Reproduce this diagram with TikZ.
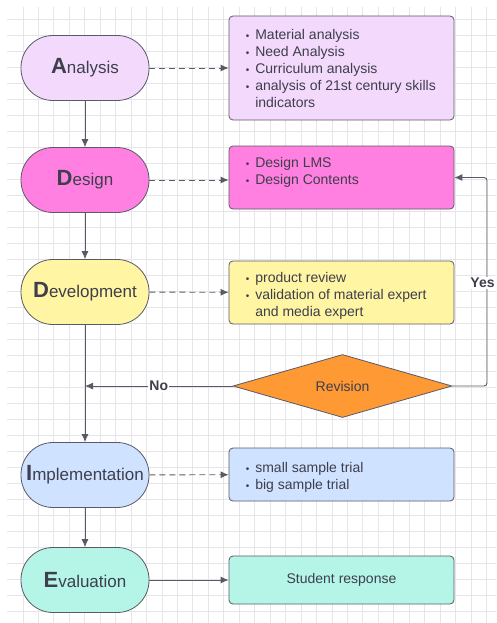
\documentclass[tikz,border=0pt]{standalone}
\usepackage{fontspec}
\setmainfont{Liberation Sans}
\usepackage{tikz}
\usetikzlibrary{arrows.meta,shapes.geometric}

\definecolor{txtgray}{HTML}{3E3E4C}
\definecolor{edgegray}{HTML}{5A5A66}
\definecolor{gridgray}{HTML}{E6E6EA}
\definecolor{anafill}{HTML}{F3D9FC}
\definecolor{desfill}{HTML}{FF80E0}
\definecolor{devfill}{HTML}{FFF5A3}
\definecolor{revfill}{HTML}{FF9933}
\definecolor{impfill}{HTML}{CFE2FF}
\definecolor{evafill}{HTML}{B4F5E8}

\newcommand\bigini[1]{{\fontsize{22}{22}\selectfont\bfseries #1}}
\newcommand\smbul{{\fontsize{10}{10}\selectfont\textbullet}}
\newcommand\itemlist[1]{\fontsize{14}{17}\selectfont
   \begin{tabular}{@{}l@{\hspace{6pt}}l@{}}#1\end{tabular}}

\begin{document}
\begin{tikzpicture}
   [x=1pt,y=-1pt,
    stadium/.style={draw=edgegray,line width=0.8pt,rounded corners=32pt,
       minimum width=128pt,minimum height=65pt,inner sep=0pt,
       text=txtgray,font=\fontsize{17}{20}\selectfont},
    infobox/.style={draw=edgegray,line width=0.8pt,rounded corners=4pt,
       minimum width=225pt,inner sep=0pt},
    infotext/.style={anchor=north west,inner sep=0pt,text=txtgray},
    arr/.style={-{Latex[length=8pt,width=7pt]},draw=edgegray,line width=0.9pt},
    dasharr/.style={arr,dash pattern=on 6pt off 4pt}]

   \useasboundingbox (0,0) rectangle (496,623);

   % grid
   \begin{scope}[draw=gridgray,line width=0.6pt]
      \foreach \k in {0,...,30}
         \draw (22.8+15.45*\k,7) -- (22.8+15.45*\k,623);
      \foreach \k in {0,...,37}
         \draw (7,19+16*\k) -- (496,19+16*\k);
   \end{scope}

   \node[stadium,fill=anafill] (ana) at (85,68) {\bigini{A}nalysis};
   \node[stadium,fill=desfill] (des) at (85,180) {\bigini{D}esign};
   \node[stadium,fill=devfill] (dev) at (85,292) {\bigini{D}evelopment};
   \node[stadium,fill=impfill] (imp) at (85,475) {\bigini{I}mplementation};
   \node[stadium,fill=evafill] (eva) at (85,580) {\bigini{E}valuation};

   \node[infobox,fill=anafill,minimum height=104pt] (abox) at (341.5,68) {};
   \node[infobox,fill=desfill,minimum height=63pt] (dbox) at (341.5,177.5) {};
   \node[infobox,fill=devfill,minimum height=63pt] (vbox) at (341.5,292.5) {};
   \node[infobox,fill=impfill,minimum height=53pt] (ibox) at (341.5,474.5) {};
   \node[infobox,fill=evafill,minimum height=48pt,text=txtgray,
      font=\fontsize{14}{17}\selectfont] (ebox) at (341.5,580) {Student response};

   \node[infotext] (atext) at ([xshift=17pt,yshift=-12pt]abox.north west)
      {\itemlist{\smbul & Material analysis\\
                 \smbul & Need Analysis\\
                 \smbul & Curriculum analysis\\
                 \smbul & analysis of 21st century skills\\
                        & indicators}};
   \node[infotext] (dtext) at ([xshift=17pt,yshift=-10pt]dbox.north west)
      {\itemlist{\smbul & Design LMS\\
                 \smbul & Design Contents}};
   \node[infotext] (vtext) at ([xshift=17pt,yshift=-10pt]vbox.north west)
      {\itemlist{\smbul & product review\\
                 \smbul & validation of material expert\\
                        & and media expert}};
   \node[infotext] (itext) at ([xshift=17pt,yshift=-13pt]ibox.north west)
      {\itemlist{\smbul & small sample trial\\
                 \smbul & big sample trial}};

   \node[diamond,draw=edgegray,line width=0.8pt,fill=revfill,aspect=3.5,
      minimum width=219pt,minimum height=63pt,inner sep=0pt,text=txtgray,
      font=\fontsize{14}{17}\selectfont] (rev) at (342.5,386) {Revision};

   \draw[arr] (ana) -- (des);
   \draw[arr] (des) -- (dev);
   \draw[arr] (dev) -- (imp);
   \draw[arr] (imp) -- (eva);

   \draw[dasharr] (ana) -- (abox);
   \draw[dasharr] (des.east) -- (des.east -| dbox.west);
   \draw[dasharr] (dev) -- (vbox);
   \draw[dasharr] (imp) -- (ibox);
   \draw[arr] (eva) -- (ebox);

   \coordinate (yesc) at (487,177.5);
   \draw[arr,rounded corners=3pt] (rev.east) -| (yesc) -- (dbox.east);
   \node[fill=white,inner sep=1pt,text=txtgray,
      font=\fontsize{14}{17}\selectfont\bfseries] (yes) at (482.5,283) {Yes};
   \draw[arr] (rev.west) -- (rev.west -| dev.south)
      node[midway,fill=white,inner sep=1pt,text=txtgray,
         font=\fontsize{14}{17}\selectfont\bfseries] (no) {No};
\end{tikzpicture}
\end{document}
